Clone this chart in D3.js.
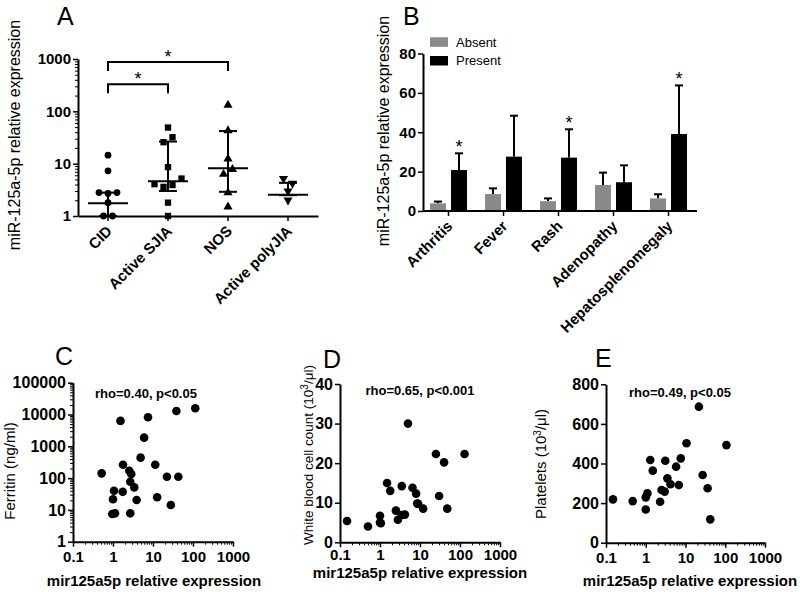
<!DOCTYPE html>
<html>
<head>
<meta charset="utf-8">
<script src="https://cdn.jsdelivr.net/npm/d3@7"></script>
<style>
  body { margin: 0; background: #fff; }
  svg { font-family: Arial, "Liberation Sans", Helvetica, sans-serif; }
</style>
</head>
<body>
<svg id="fig" width="800" height="592"></svg>
<script>
// ---- Panel A data (scatter dot plot, median + IQR) ----
var groupsA = ["CID", "Active SJIA", "NOS", "Active polyJIA"];
var cidVals = [14.5, 7.3, 2.8, 2.7, 2.8, 1.8, 1.0, 1.0];
var sjiaVals = [49, 25.7, 32, 8.6, 4.05, 3.6, 3.9, 5.2, 1.8, 1.0];
var nosVals = [132, 42.8, 12.4, 6.3, 7.8, 2.8, 1.5];
var polyVals = [5.2, 4.2, 3.0, 2.0];
var medianA = [1.75, 4.6, 8.2, 2.55];
var iqrLowA = [1.0, 3.0, 2.9, 2.5];
var iqrHighA = [2.8, 26.5, 42, 4.3];
var sigPairsA = [["CID", "Active SJIA"], ["CID", "NOS"]];

// ---- Panel B data (mean + SEM) ----
var symptoms = ["Arthritis", "Fever", "Rash", "Adenopathy", "Hepatosplenomegaly"];
var absentMean = [3.9, 8.6, 5.0, 13.2, 6.4];
var absentSem = [0.9, 2.9, 1.4, 6.3, 2.1];
var presentMean = [20.8, 27.6, 27.1, 14.6, 39.1];
var presentSem = [8.5, 20.8, 14.4, 8.6, 24.7];
var signifB = [true, false, true, false, true];

// ---- Panel C: ferritin vs expression ----
var cExpr = [1.54, 7.5, 38.5, 114, 6.0, 4.9, 0.52, 1.78, 2.55, 2.86, 11.4, 22.3, 43, 1.06, 1.75, 2.7, 3.4, 1.0, 3.9, 12.7, 0.96, 1.12, 2.7, 27.9];
var cFerritin = [6300, 8200, 12900, 15700, 1870, 440, 141, 264, 170, 134, 264, 110, 110, 40, 37, 77, 51, 21.6, 20.5, 25, 7.4, 7.8, 7.8, 14.3];

// ---- Panel D: WBC vs expression ----
var dExpr = [0.15, 0.5, 1.0, 1.0, 1.05, 1.5, 1.8, 2.5, 2.8, 3.5, 3.5, 4.2, 5.0, 6.5, 8.0, 8.5, 9.0, 12, 25, 30, 40, 48, 130];
var dWbc = [5.4, 4.0, 6.7, 5.0, 4.8, 15.0, 13.0, 8.0, 5.7, 14.2, 6.9, 7.0, 30.0, 13.8, 12.3, 9.8, 9.7, 8.5, 22.3, 11.7, 20.2, 8.5, 22.3];

// ---- Panel E: platelets vs expression ----
var eExpr = [0.15, 0.47, 1.0, 1.1, 1.0, 1.3, 1.5, 2.3, 2.5, 3.0, 3.1, 3.5, 4.2, 5.8, 6.8, 7.6, 10.6, 21.7, 27, 36, 42, 107];
var ePlatelets = [219, 210, 229, 249, 168, 418, 364, 207, 266, 258, 414, 325, 295, 384, 291, 426, 502, 687, 342, 275, 118, 493];

var svg = d3.select("#fig");

function styleAxis(g, size) {
  g.attr("font-family", null).attr("font-size", null);
  g.select(".domain").attr("stroke", "#000").attr("stroke-width", 2);
  g.selectAll(".tick line").attr("stroke", "#000").attr("stroke-width", 1.5);
  g.selectAll(".tick text").attr("fill", "#000")
    .style("font-size", size + "px").style("font-weight", "bold");
}

function logMinor(lo, hi) {
  var out = [];
  for (var d = lo; d < hi * 0.999; d *= 10)
    for (var k = 2; k < 10; k++) out.push(d * k);
  return out;
}

function minorAxis(g, axis) {
  g.call(axis.tickFormat("").tickSizeOuter(0));
  g.select(".domain").remove();
  g.selectAll(".tick text").remove();
  g.selectAll(".tick line").attr("stroke", "#000").attr("stroke-width", 1);
}

function letter(txt, x, y) {
  svg.append("text").attr("x", x).attr("y", y).text(txt)
    .style("font-size", "25px");
}

function yLabel(x, y, size, build) {
  var t = svg.append("text")
    .attr("transform", "translate(" + x + "," + y + ") rotate(-90)")
    .attr("text-anchor", "middle")
    .style("font-size", size + "px");
  build(t);
}

function logFmt(d) { return d < 1 ? String(d) : d3.format("d")(d); }

// ================= Panel A =================
var yA = d3.scaleLog().domain([1, 1000]).range([216, 59]);
var xA = d3.scaleBand().domain(groupsA).range([78, 318]);

letter("A", 57, 25);
yLabel(20, 135, 16, function(t) { t.text("miR-125a-5p relative expression"); });

svg.append("g").attr("transform", "translate(78,0)")
  .call(function(g) { minorAxis(g, d3.axisLeft(yA).tickValues(logMinor(1, 1000)).tickSize(3)); });
svg.append("g").attr("transform", "translate(78,0)")
  .call(d3.axisLeft(yA).tickValues([1, 10, 100, 1000]).tickFormat(d3.format("d"))
    .tickSize(5).tickPadding(2).tickSizeOuter(0))
  .call(function(g) { styleAxis(g, 15); });

svg.append("g").attr("transform", "translate(0,216)")
  .call(d3.axisBottom(xA).tickSize(5).tickSizeOuter(0))
  .call(function(g) {
    styleAxis(g, 15);
    g.selectAll(".tick text").attr("x", 0).attr("y", 0).attr("dy", 0)
      .attr("transform", "translate(5,16) rotate(-45)").style("text-anchor", "end");
  });

// spread points of near-equal value sideways (dot plot layout)
function dotLayout(vals, yS, gap, thr) {
  var pts = vals.map(function(v) { return { v: v, y: yS(v) }; });
  var clusters = [];
  pts.forEach(function(p) {
    var c = clusters.find(function(cl) {
      return cl.some(function(q) { return Math.abs(q.y - p.y) < thr; });
    });
    if (c) c.push(p); else clusters.push([p]);
  });
  clusters.forEach(function(cl) {
    cl.forEach(function(p, i) { p.dx = (i - (cl.length - 1) / 2) * gap; });
  });
  return pts;
}

var groupVals = [cidVals, sjiaVals, nosVals, polyVals];
var symbolsA = [d3.symbolCircle, d3.symbolSquare, d3.symbolTriangle, d3.symbolTriangle];
var symSizeA = [36, 40, 36, 36];
var gA = svg.append("g");
groupVals.forEach(function(vals, gi) {
  var cx = xA(groupsA[gi]) + xA.bandwidth() / 2;
  var pts = dotLayout(vals, yA, 9, 7);
  gA.selectAll(null).data(pts).enter().append("path")
    .attr("d", d3.symbol().type(symbolsA[gi]).size(symSizeA[gi]))
    .attr("transform", function(d) {
      return "translate(" + (cx + d.dx) + "," + d.y + ")" + (gi === 3 ? " rotate(180)" : "");
    })
    .attr("fill", "#000");
  // median and IQR
  gA.append("line").attr("x1", cx - 20).attr("x2", cx + 20)
    .attr("y1", yA(medianA[gi])).attr("y2", yA(medianA[gi]))
    .attr("stroke", "#000").attr("stroke-width", 2);
  gA.append("line").attr("x1", cx).attr("x2", cx)
    .attr("y1", yA(iqrLowA[gi])).attr("y2", yA(iqrHighA[gi]))
    .attr("stroke", "#000").attr("stroke-width", 2);
  [iqrLowA[gi], iqrHighA[gi]].forEach(function(v) {
    gA.append("line").attr("x1", cx - 9).attr("x2", cx + 9)
      .attr("y1", yA(v)).attr("y2", yA(v))
      .attr("stroke", "#000").attr("stroke-width", 2);
  });
});

// significance brackets
var bracketTop = [yA(330), yA(1000) + 3];
sigPairsA.forEach(function(pair, i) {
  var x1 = xA(pair[0]) + xA.bandwidth() / 2, x2 = xA(pair[1]) + xA.bandwidth() / 2;
  var yt = bracketTop[i];
  svg.append("path")
    .attr("d", "M" + x1 + "," + (yt + 9) + "V" + yt + "H" + x2 + "V" + (yt + 9))
    .attr("fill", "none").attr("stroke", "#000").attr("stroke-width", 2);
  svg.append("text").attr("x", (x1 + x2) / 2).attr("y", yt + 1)
    .attr("text-anchor", "middle").style("font-size", "18px").text("*");
});

// ================= Panel B =================
var yB = d3.scaleLinear().domain([0, 80]).range([211, 53.5]);
var xB = d3.scaleBand().domain(symptoms).range([421, 696]);
var xSub = d3.scaleBand().domain(["Absent", "Present"]).range([-18.5, 18.5]).paddingInner(0.238);
var colB = { Absent: "#8a8a8a", Present: "#000" };

letter("B", 403, 25);
yLabel(389, 131, 16, function(t) { t.text("miR-125a-5p relative expression"); });

var barData = [];
symptoms.forEach(function(s, i) {
  barData.push({ s: s, k: "Absent", m: absentMean[i], e: absentSem[i], sig: false });
  barData.push({ s: s, k: "Present", m: presentMean[i], e: presentSem[i], sig: signifB[i] });
});
var gB = svg.append("g");
barData.forEach(function(d) {
  var x0 = xB(d.s) + xB.bandwidth() / 2 + xSub(d.k);
  var bw = xSub.bandwidth(), cx = x0 + bw / 2;
  var top = yB(d.m + d.e);
  gB.append("line").attr("x1", cx).attr("x2", cx).attr("y1", yB(d.m)).attr("y2", top)
    .attr("stroke", "#000").attr("stroke-width", 2);
  gB.append("line").attr("x1", cx - 4).attr("x2", cx + 4).attr("y1", top).attr("y2", top)
    .attr("stroke", "#000").attr("stroke-width", 2);
  gB.append("rect").attr("x", x0).attr("width", bw)
    .attr("y", yB(d.m)).attr("height", yB(0) - yB(d.m)).attr("fill", colB[d.k]);
  if (d.sig) {
    gB.append("text").attr("x", cx).attr("y", top).attr("text-anchor", "middle")
      .style("font-size", "18px").text("*");
  }
});

svg.append("g").attr("transform", "translate(423,0)")
  .call(d3.axisLeft(yB).tickValues([0, 20, 40, 60, 80]).tickSize(5).tickPadding(2).tickSizeOuter(0))
  .call(function(g) { styleAxis(g, 15); });
svg.append("g").attr("transform", "translate(0,211)")
  .call(d3.axisBottom(xB).tickSize(5).tickSizeOuter(0))
  .call(function(g) {
    g.select(".domain").attr("d", "M423,0H697");
    styleAxis(g, 15);
    g.selectAll(".tick text").attr("x", 0).attr("y", 0).attr("dy", 0)
      .attr("transform", "translate(5,16) rotate(-45)").style("text-anchor", "end");
  });

// legend
var legB = svg.append("g");
["Absent", "Present"].forEach(function(k, i) {
  legB.append("rect").attr("x", 430).attr("y", 37.3 + i * 18.7).attr("width", 18).attr("height", 9.5)
    .attr("fill", colB[k]);
  legB.append("text").attr("x", 456).attr("y", 46.5 + i * 18.7).style("font-size", "13px").text(k);
});

// ================= Panels C, D, E =================
function scatterPanel(opt) {
  var x = d3.scaleLog().domain([0.1, 1000]).range([opt.x0, opt.x1]);
  var y = opt.ylog ? d3.scaleLog().domain(opt.ydom).range([opt.yb, opt.yt])
                   : d3.scaleLinear().domain(opt.ydom).range([opt.yb, opt.yt]);
  letter(opt.letter, opt.lx, opt.ly);

  svg.append("g").attr("transform", "translate(0," + opt.yb + ")")
    .call(function(g) { minorAxis(g, d3.axisBottom(x).tickValues(logMinor(0.1, 1000)).tickSize(3)); });
  svg.append("g").attr("transform", "translate(0," + opt.yb + ")")
    .call(d3.axisBottom(x).tickValues([0.1, 1, 10, 100, 1000]).tickFormat(logFmt)
      .tickSize(5).tickPadding(opt.pad).tickSizeOuter(0))
    .call(function(g) { styleAxis(g, 15); });

  if (opt.ylog) {
    svg.append("g").attr("transform", "translate(" + opt.x0 + ",0)")
      .call(function(g) { minorAxis(g, d3.axisLeft(y).tickValues(logMinor(opt.ydom[0], opt.ydom[1])).tickSize(3)); });
  }
  svg.append("g").attr("transform", "translate(" + opt.x0 + ",0)")
    .call(d3.axisLeft(y).tickValues(opt.yticks).tickFormat(d3.format("d"))
      .tickSize(5).tickPadding(2).tickSizeOuter(0))
    .call(function(g) { styleAxis(g, 16); });

  svg.append("g").selectAll("circle").data(opt.xs).enter().append("circle")
    .attr("cx", function(d) { return x(d); })
    .attr("cy", function(d, i) { return y(opt.ys[i]); })
    .attr("r", 4.3).attr("fill", "#000");

  svg.append("text").attr("x", opt.rx).attr("y", opt.ry).attr("text-anchor", "middle")
    .style("font-size", "13px").style("font-weight", "bold").text(opt.rho);
  svg.append("text").attr("x", opt.tx).attr("y", opt.ty).attr("text-anchor", "middle")
    .style("font-size", "15px").style("font-weight", "bold").text("mir125a5p relative expression");
  yLabel(opt.ylx, opt.yly, opt.ylsize, opt.ylab);
}

function unitLabel(name) {
  return function(t) {
    t.append("tspan").text(name + " (10");
    t.append("tspan").attr("baseline-shift", "super").style("font-size", "10px").text("3");
    t.append("tspan").text("/\u03bcl)");
  };
}

scatterPanel({
  letter: "C", lx: 55, ly: 365, x0: 73, x1: 233, yb: 541.7, yt: 382.7, pad: 5,
  ylog: true, ydom: [1, 100000], yticks: [1, 10, 100, 1000, 10000, 100000],
  xs: cExpr, ys: cFerritin, rho: "rho=0.40, p<0.05", rx: 146, ry: 398,
  tx: 154, ty: 586, ylx: 15, yly: 471, ylsize: 15,
  ylab: function(t) { t.text("Ferritin (ng/ml)"); }
});
scatterPanel({
  letter: "D", lx: 323, ly: 368, x0: 340, x1: 500, yb: 542.3, yt: 384, pad: 2,
  ylog: false, ydom: [0, 40], yticks: [0, 10, 20, 30, 40],
  xs: dExpr, ys: dWbc, rho: "rho=0.65, p<0.001", rx: 420, ry: 395,
  tx: 420, ty: 578, ylx: 313, yly: 455, ylsize: 13.5,
  ylab: unitLabel("White blood cell count")
});
scatterPanel({
  letter: "E", lx: 595, ly: 367, x0: 606, x1: 765, yb: 542.7, yt: 384.3, pad: 5,
  ylog: false, ydom: [0, 800], yticks: [0, 200, 400, 600, 800],
  xs: eExpr, ys: ePlatelets, rho: "rho=0.49, p<0.05", rx: 680, ry: 397,
  tx: 690, ty: 586, ylx: 546, yly: 464, ylsize: 15,
  ylab: unitLabel("Platelets")
});
</script>
</body>
</html>
